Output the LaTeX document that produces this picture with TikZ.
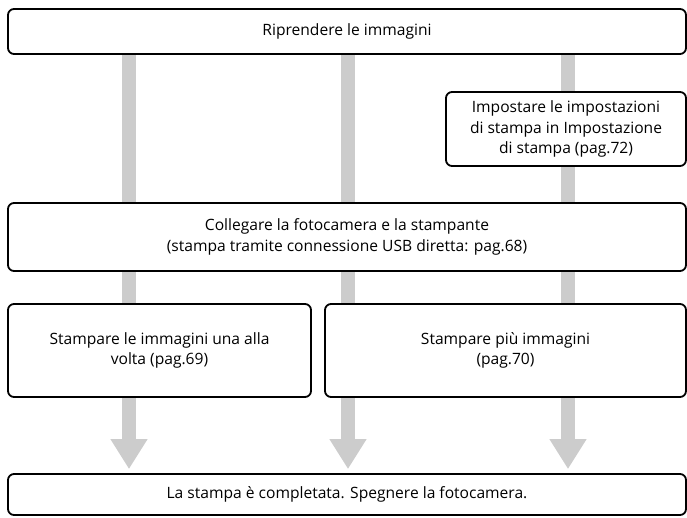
\documentclass[tikz,border=0pt]{standalone}
\usepackage{fontspec}
\setmainfont{Open Sans}
\usetikzlibrary{arrows.meta,backgrounds}
\definecolor{barcol}{HTML}{CCCCCC}
\begin{document}
\begin{tikzpicture}[x=1pt,y=-1pt,
  box/.style={draw, line width=1.8pt, rounded corners=6pt, fill=white, align=center, font=\fontsize{15.6}{20.5}\selectfont, inner sep=0pt},
  bar/.style={draw=barcol, line width=14pt, -{Triangle[width=35pt,length=30pt]}, shorten >=4pt}
]
\useasboundingbox (0,0) rectangle (687,518);
% columns of the grey bars
\coordinate (col1) at (129,0);
\coordinate (col2) at (348,0);
\coordinate (col3) at (568,0);
% boxes
\node[box, minimum width=678pt, minimum height=45pt] (shoot) at (347,31.5) {Riprendere le immagini};
\node[box, minimum width=240pt, minimum height=74pt] (dpof) at (566,129) {Impostare le impostazioni\\di stampa in Impostazione\\di stampa (pag.72)};
\node[box, minimum width=678pt, minimum height=68pt] (connect) at (347,237) {Collegare la fotocamera e la stampante\\(stampa tramite connessione USB diretta: pag.68)};
\node[box, minimum width=303pt, minimum height=93pt] (single) at (159.5,350.5) {Stampare le immagini una alla\\volta (pag.69)};
\node[box, minimum width=361pt, minimum height=93pt] (multi) at (505.5,350.5) {Stampare più immagini\\(pag.70)};
\node[box, minimum width=678pt, minimum height=41pt] (done) at (347,494.5) {La stampa è completata. Spegnere la fotocamera.};
% grey flow bars behind the boxes
\begin{pgfonlayer}{background}
\draw[bar] (shoot.south -| col1) -- (done.north -| col1);
\draw[bar] (shoot.south -| col2) -- (done.north -| col2);
\draw[bar] (shoot.south -| col3) -- (done.north -| col3);
\end{pgfonlayer}
\end{tikzpicture}
\end{document}
